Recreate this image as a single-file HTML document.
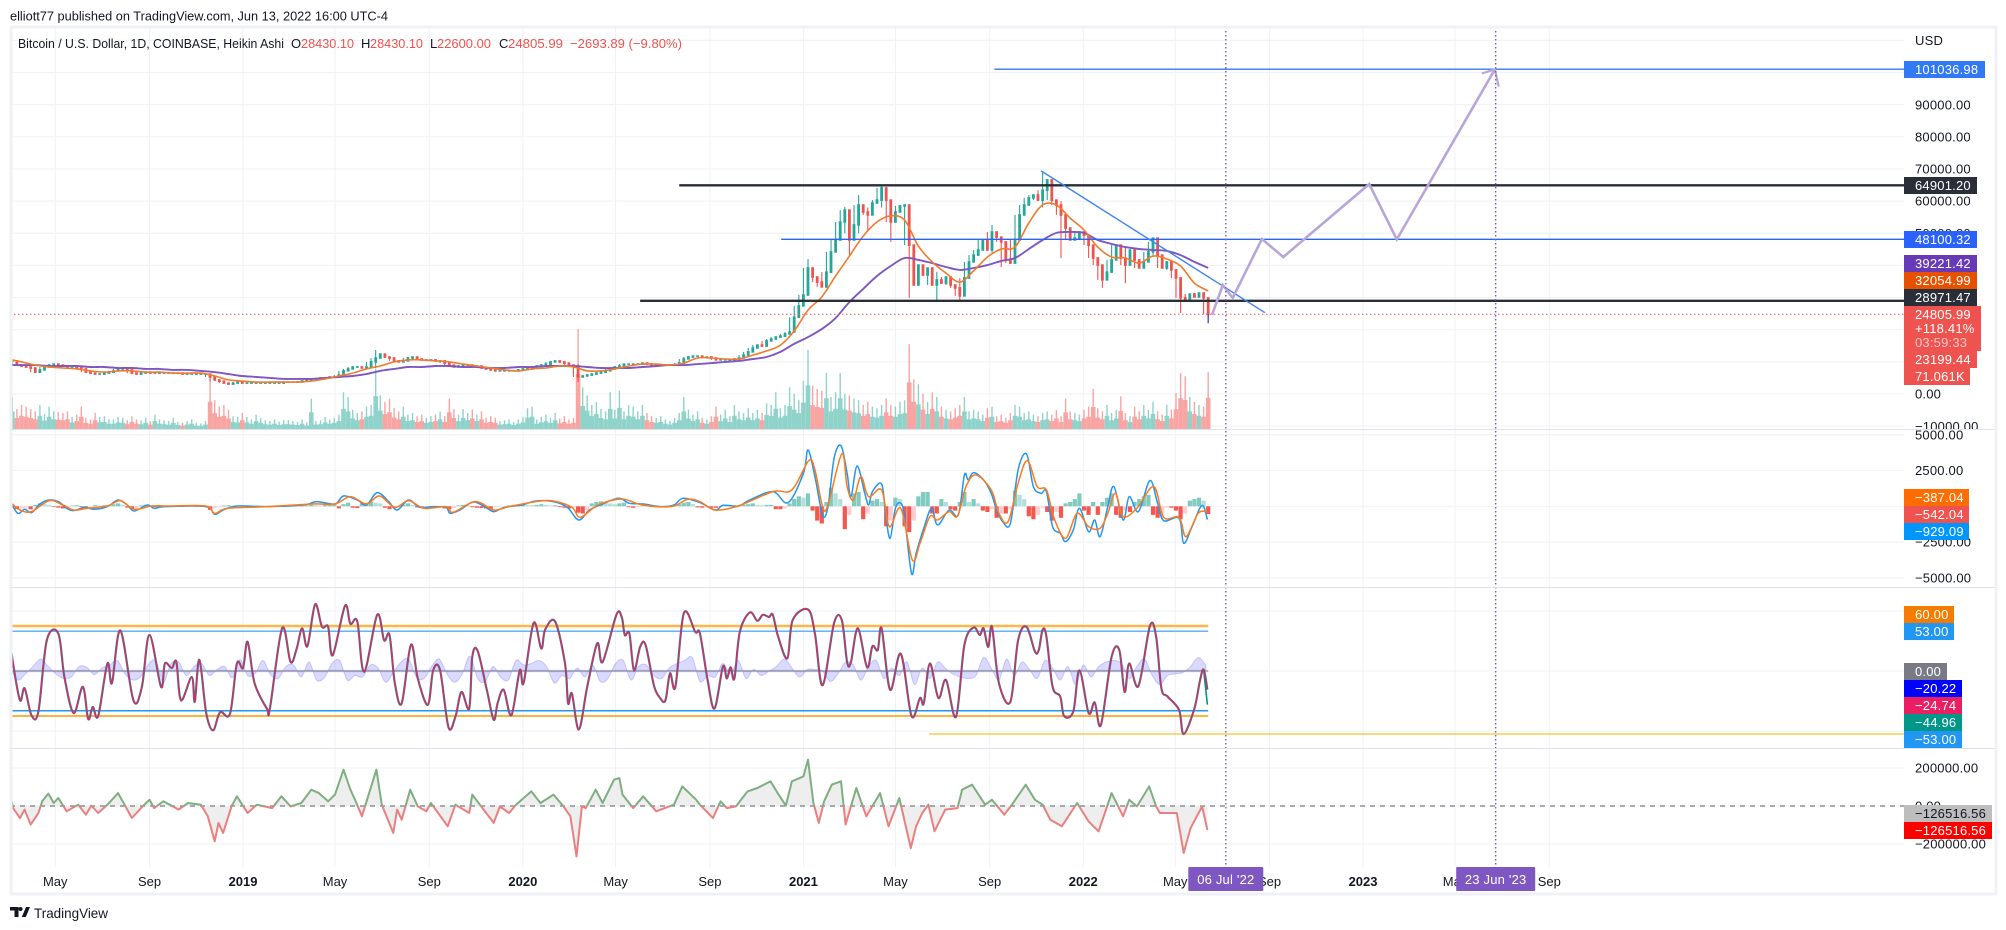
<!DOCTYPE html>
<html lang="en">
<head>
<meta charset="utf-8">
<title>Bitcoin / U.S. Dollar chart</title>
<style>
html,body{margin:0;padding:0;background:#fff;width:2006px;height:930px;overflow:hidden}
svg{display:block;font-family:"Liberation Sans",sans-serif}
text{font-size:13px;fill:#131722}
.ax{letter-spacing:.2px}
.tag{fill:#fff;letter-spacing:.2px}
</style>
</head>
<body>
<svg id="chart" xmlns="http://www.w3.org/2000/svg" width="2006" height="930" viewBox="0 0 2006 930">
  <defs>
    <clipPath id="clip-p1"><rect x="10" y="27" width="1894" height="402"/></clipPath>
    <clipPath id="clip-p2"><rect x="10" y="430" width="1894" height="157"/></clipPath>
    <clipPath id="clip-p3"><rect x="10" y="588" width="1894" height="160"/></clipPath>
    <clipPath id="clip-p4"><rect x="10" y="749" width="1894" height="118"/></clipPath>
    <clipPath id="clip-flow-up"><rect x="10" y="749" width="1894" height="57"/></clipPath>
    <clipPath id="clip-flow-down"><rect x="10" y="806" width="1894" height="61"/></clipPath>
    <clipPath id="clip-axis1"><rect x="1904" y="27" width="93" height="402"/></clipPath>
  </defs>

  <g id="grid"></g>
  <g id="volume" clip-path="url(#clip-p1)"></g>
  <g id="candles" clip-path="url(#clip-p1)"></g>
  <g id="mas" clip-path="url(#clip-p1)"></g>
  <g id="drawings"></g>
  <g id="macd" clip-path="url(#clip-p2)"></g>
  <g id="wave" clip-path="url(#clip-p3)"></g>
  <g id="flow" clip-path="url(#clip-p4)"></g>
  <g id="vlines"></g>

  <rect x="11" y="27" width="1985" height="867" fill="none" stroke="#f0f1f7" stroke-width="3"/>
  <line x1="10" x2="1995" y1="429.5" y2="429.5" stroke="#e0e3eb"/>
  <line x1="10" x2="1995" y1="587.5" y2="587.5" stroke="#e0e3eb"/>
  <line x1="10" x2="1995" y1="748.5" y2="748.5" stroke="#e0e3eb"/>

  <text x="10" y="20.5" textLength="378" lengthAdjust="spacingAndGlyphs">elliott77 published on TradingView.com, Jun 13, 2022 16:00 UTC-4</text>
  <g>
    <text x="18" y="48" textLength="266" lengthAdjust="spacingAndGlyphs">Bitcoin / U.S. Dollar, 1D, COINBASE, Heikin Ashi</text>
    <text x="291" y="48">O</text>
    <text x="301" y="48" style="fill:#ef5350" textLength="53" lengthAdjust="spacingAndGlyphs">28430.10</text>
    <text x="361" y="48">H</text>
    <text x="370" y="48" style="fill:#ef5350" textLength="53" lengthAdjust="spacingAndGlyphs">28430.10</text>
    <text x="430" y="48">L</text>
    <text x="437" y="48" style="fill:#ef5350" textLength="54" lengthAdjust="spacingAndGlyphs">22600.00</text>
    <text x="499" y="48">C</text>
    <text x="508" y="48" style="fill:#ef5350" textLength="55" lengthAdjust="spacingAndGlyphs">24805.99</text>
    <text x="570" y="48" style="fill:#ef5350" textLength="112" lengthAdjust="spacingAndGlyphs">−2693.89 (−9.80%)</text>
  </g>

  <text class="ax" x="1915" y="45">USD</text>
  <g id="axis1" clip-path="url(#clip-axis1)"></g>
  <g id="axis2"></g>
  <g id="axis4"></g>
  <g id="timeaxis"></g>
  <g id="badges"></g>

  <g>
    <path fill="#131722" d="M10 907h8.500v10h-4v-6.500h-4.500zM26 907h4l-4.200 10h-4z"/>
    <circle cx="20.500" cy="909" r="2" fill="#131722"/>
    <text x="34" y="918" style="font-size:14px" textLength="74" lengthAdjust="spacingAndGlyphs">TradingView</text>
  </g>
</svg>

<script>
/* ---------- time categories ---------- */
const tickDates = ['2018-05-01','2018-09-01','2019-01-01','2019-05-01','2019-09-01','2020-01-01','2020-05-01','2020-09-01','2021-01-01','2021-05-01','2021-09-01','2022-01-01','2022-05-01','2022-09-01','2023-01-01','2023-05-01','2023-09-01'];
const tickLabels = ['May','Sep','2019','May','Sep','2020','May','Sep','2021','May','Sep','2022','May','Sep','2023','May','Sep'];
const markerDates = ['2022-07-06','2023-06-23'];
const markerLabels = ["06 Jul '22","23 Jun '23"];

/* ---------- price pane ($ thousands), one candle every 6 days ---------- */
const closePrices = [
10.3,9.0,8.7,8.4,8.1,6.8,7.5,8.4,9.0,9.3,
9.0,8.7,8.4,8.4,8.1,7.8,6.8,6.5,6.2,6.2,
6.5,6.8,7.2,7.8,8.1,7.5,6.5,6.2,6.5,6.8,
6.5,6.5,6.5,6.5,6.5,6.5,6.5,6.2,6.2,6.2,
6.2,6.2,6.2,5.3,4.4,4.0,3.4,3.1,3.4,3.7,
3.4,3.4,3.4,3.4,3.4,3.4,3.4,3.4,3.4,3.7,
3.7,3.7,3.7,4.0,4.4,4.4,4.7,5.0,5.0,5.3,
5.3,5.9,7.2,7.8,8.4,8.4,8.1,8.4,10.0,11.2,
12.4,11.5,11.2,10.3,10.0,10.3,11.2,11.5,10.9,10.6,
10.6,10.6,10.3,10.3,9.6,9.0,8.4,8.7,9.0,9.0,
8.7,8.7,8.1,7.8,7.5,7.2,7.2,7.2,7.2,7.2,
7.5,7.8,7.8,8.4,8.7,9.0,9.3,10.0,10.3,10.0,
9.6,9.0,8.7,5.3,5.6,5.9,6.2,6.5,6.8,7.2,
7.8,8.4,8.7,9.3,9.3,9.3,9.3,9.6,9.3,9.0,
9.0,9.0,9.0,9.0,9.0,9.6,10.9,11.5,11.8,11.8,
11.5,11.5,11.2,10.6,10.6,10.6,10.6,10.9,11.2,12.1,
13.1,14.3,15.2,14.9,16.5,17.1,17.7,18.0,18.7,19.3,
23.9,27.4,30.8,39.2,36.4,34.8,33.3,37.9,44.2,47.9,
53.5,57.2,47.9,52.6,58.8,56.6,55.7,59.4,60.3,64.1,
60.3,53.5,56.6,58.5,58.8,46.3,33.9,40.1,37.0,39.2,
33.9,35.5,34.5,36.4,33.9,33.0,30.5,36.1,41.1,43.2,
44.8,47.9,44.8,50.4,48.8,47.3,41.7,40.7,47.9,55.7,
58.8,61.0,61.9,60.3,63.4,66.6,60.3,58.8,55.7,51.6,
47.9,48.5,50.4,49.4,46.3,42.3,40.1,35.5,37.9,41.7,
46.3,42.3,40.1,44.8,41.7,39.2,41.1,44.2,48.5,43.2,
39.2,41.1,38.6,36.1,29.9,29.2,31.1,30.2,31.4,29.9,
24.8];
const wickIndex = [43,79,123,173,181,182,184,186,189,191,195,201,206,213,215,224,228,237,242,247,254,260];
const wickHigh  = [6.2,13.7,9.3,42.0,58.2,57.0,61.9,58.0,64.7,60.0,58.8,38.0,36.0,52.6,48.0,69.0,60.0,38.0,46.0,47.3,36.0,28.4];
const wickLow   = [3.9,8.0,3.7,32.0,50.0,43.2,50.0,51.0,58.0,47.3,29.9,29.2,29.2,44.0,39.5,58.0,42.3,33.0,34.5,41.0,25.2,22.6];
const volumeK = [
40,25,30,28,25,22,30,19,28,22,
21,20,22,15,18,28,14,12,20,15,
16,12,12,15,14,11,16,12,11,14,
10,18,12,11,10,14,9,8,10,12,
8,7,10,62,36,28,30,24,16,15,
20,15,12,18,14,11,10,12,9,11,
11,10,9,12,8,38,10,11,15,12,
14,18,46,40,24,20,22,28,30,75,
42,34,38,26,22,28,18,20,16,18,
14,16,18,22,16,38,25,18,25,20,
24,18,22,14,16,14,10,11,12,9,
12,15,26,28,12,15,18,14,20,13,
16,12,14,125,52,42,30,34,25,22,
46,24,48,22,30,28,22,30,20,16,
14,16,12,10,14,20,40,24,18,22,
14,12,16,28,18,24,16,30,22,20,
26,20,24,20,32,30,46,26,30,52,
44,36,60,99,54,50,48,70,40,46,
70,44,42,38,36,30,34,28,26,30,
38,30,28,34,36,106,62,56,44,34,
46,40,28,24,22,26,30,40,22,24,
22,18,26,28,16,18,14,20,30,28,
20,22,18,16,20,22,18,24,16,38,
22,20,18,24,28,50,26,22,30,20,
24,41,20,16,28,22,30,24,34,22,
18,30,24,45,70,66,40,34,30,28,
71];
/* moving averages ($ thousands), one point every 18 days */
const maOrange = [
10.9,10.0,9.0,8.4,8.1,7.8,7.2,6.8,7.2,7.2,
6.8,6.8,6.5,6.5,6.5,5.6,4.4,4.0,3.7,3.7,
3.7,3.7,4.0,4.7,5.6,6.5,7.8,8.7,10.0,10.6,
10.6,10.3,10.0,9.3,8.7,8.1,7.5,7.2,7.8,8.1,
8.7,8.4,7.2,7.2,7.8,8.7,9.3,9.3,9.0,9.6,
11.2,11.2,10.9,10.9,12.1,13.4,15.2,19.6,26.1,30.2,
36.7,42.9,49.1,53.5,55.4,54.1,46.0,41.1,37.6,34.8,
38.3,42.6,45.1,45.7,53.2,58.8,58.8,54.7,51.0,45.7,
42.6,42.3,40.7,42.9,42.0,39.8,34.5,32.05];
const maPurple = [
9.0,9.0,9.0,8.7,8.7,8.7,8.4,8.4,8.1,8.1,
7.8,7.8,7.5,7.5,7.2,6.8,6.2,5.6,5.3,5.0,
4.7,4.7,4.7,5.0,5.3,5.6,6.2,7.2,7.8,8.4,
8.4,8.7,8.7,8.4,8.4,8.1,8.1,8.4,8.4,8.7,
8.7,8.7,8.4,8.1,8.1,8.1,8.4,8.7,9.0,9.0,
9.3,9.6,10.0,10.3,10.9,11.5,13.1,15.6,17.7,20.2,
23.6,28.6,32.7,36.7,39.8,42.3,41.7,40.7,39.5,38.6,
39.2,40.1,41.4,42.3,45.1,47.9,50.1,50.4,50.1,47.9,
46.7,45.7,45.1,44.8,44.5,43.2,41.1,39.22];
const priceTicks = [110,100,90,80,70,60,50,40,30,20,10,0,-10];
const priceTickLabels = ['','100000.00','90000.00','80000.00','70000.00','60000.00','50000.00','40000.00','30000.00','20000.00','10000.00','0.00','−10000.00'];

/* drawings: levels, trend line and projected path */
const levelPrices = [101.03698,64.9012,48.10032,28.97147];
const levelStartDays = [1284,873,1006,822];
const levelColors = ['#3b78e7','#2a2e39','#2962ff','#2a2e39'];
const levelWidths = [1.4,2.4,1.4,2.4];
const levelNames = ['level-101036','level-64901','level-48100','level-28971'];
const lastPrice = 24.80599;
const trendDays = [1345,1637];
const trendPrices = [69.4,25.3];
const pathDays = [1568,1582,1595,1633,1661,1773,1809,1937];
const pathPrices = [24.6,33.9,29.9,48.2,42.6,65.3,48.1,101.0];
const arrowDays = [1920,1937,1942];
const arrowPrices = [99.7,101.0,95.6];

/* ---------- MACD pane ---------- */
const macdDays = [0,10,19,28,39,51,63,74,83,98,109,127,141,153,162,179,188,202,255,267,278,296,336,383,400,424,435,453,465,479,494,505,520,534,552,569,574,587,604,619,631,645,668,686,709,727,742,756,773,794,808,826,849,866,878,900,920,930,950,965,995,1015,1035,1041,1050,1060,1067,1075,1084,1092,1097,1105,1115,1120,1125,1137,1142,1148,1155,1162,1167,1176,1182,1192,1202,1210,1225,1237,1245,1250,1257,1270,1280,1287,1295,1305,1315,1326,1335,1345,1352,1360,1370,1377,1387,1395,1407,1415,1422,1432,1440,1452,1460,1472,1487,1497,1505,1525,1531,1542,1552,1557,1562];
const macdValues = [396,-489,-210,-443,163,443,326,-140,-303,-70,-210,-23,443,93,-326,93,-140,-23,-23,-559,-256,23,-23,93,326,163,722,443,93,955,326,-256,443,-70,-23,-93,-489,-256,303,-23,-373,-70,93,373,326,-70,-955,-256,163,559,210,163,-23,93,559,256,-256,70,23,443,1025,256,2306,3938,2074,-606,-23,3355,4241,2306,676,2819,909,93,1025,1561,-489,-2237,-140,210,-722,-4683,-3285,-1538,-140,-1305,-256,-606,2190,1841,2353,1841,909,-256,-1072,-1188,2540,3658,1375,909,1025,-1421,-1887,-2470,-1654,-140,-1771,-955,-2120,-23,1375,-955,676,-373,1794,210,-1002,-839,-2586,-1421,-140,-23,-929];
const signalDays = [2,13,28,51,69,83,101,127,144,162,185,208,255,267,284,336,395,424,444,465,482,502,520,540,569,578,607,631,651,686,709,733,744,767,797,820,843,866,884,900,920,950,995,1020,1042,1050,1060,1067,1085,1092,1100,1110,1120,1137,1147,1162,1177,1187,1200,1210,1225,1236,1247,1260,1280,1290,1302,1315,1327,1340,1352,1362,1377,1392,1407,1422,1432,1442,1452,1470,1492,1505,1525,1534,1550,1562];
const signalValues = [210,-256,-373,396,93,-256,-140,23,396,-210,23,23,23,-489,-140,-23,163,163,676,163,722,-70,396,-140,-23,-419,326,-256,-23,326,373,-70,-769,93,513,163,-23,23,489,326,-256,23,1025,1142,3192,2540,-23,93,3658,1375,443,2074,676,1142,-1421,-140,-3751,-2586,-722,-955,-373,-676,1375,2190,1142,-489,-1072,1608,3192,1375,1142,-839,-2237,-489,-1421,-1538,-489,909,-722,-140,1375,-769,-769,-2120,-489,-387];
const histValues = [
150,-200,-150,-100,-200,100,200,150,100,-50,
-100,-150,-100,50,80,-60,-100,-50,80,50,
80,60,150,200,120,-100,-180,-120,60,100,
60,-50,-80,40,30,20,-20,-30,20,10,
10,-10,-20,-250,-150,-60,60,80,40,30,
20,10,-10,10,-10,10,20,10,10,20,
30,40,20,-20,60,100,80,60,100,120,
200,-150,150,250,-100,-120,200,250,300,250,
200,-100,-200,-150,-50,100,200,100,-80,-100,
-60,-40,-60,-80,-150,-200,-120,60,100,80,
-60,-100,-120,-150,-180,-80,-40,-20,60,80,
120,150,100,80,100,150,100,60,80,-60,
-100,-150,-100,-450,-500,-300,200,300,350,300,
200,150,200,250,-60,-100,-60,60,80,-50,
-60,-30,20,30,50,150,250,300,150,-80,
-100,-60,-100,-100,-40,30,50,30,60,120,
150,200,100,80,90,100,-200,-200,-150,200,
500,700,600,900,-300,-1000,-1200,300,1300,900,
500,-1600,-600,900,1000,-900,-500,400,500,300,
-1400,-1000,600,500,-1400,-1800,-1000,700,1000,1000,
-500,-500,500,300,-200,-300,300,1000,300,500,
200,-300,-400,-200,-800,-500,-500,-200,1100,800,
500,-700,-900,-600,-100,-400,-1000,-400,-800,200,
300,500,900,-300,-600,300,-600,300,600,900,
-600,-800,-300,-400,300,500,700,800,-600,-800,
-500,-100,-100,-300,-900,-500,400,500,600,400,
-542];
const macdTicks = [5000,2500,0,-2500,-5000];
const macdTickLabels = ['5000.00','2500.00','','−2500.00','−5000.00'];

/* ---------- wave-trend pane ---------- */
const waveDays = [0,4,13,19,28,37,48,63,71,83,95,102,108,115,127,133,144,161,172,182,197,202,211,217,223,237,241,247,256,265,274,287,296,304,310,319,335,339,355,366,374,381,388,398,407,415,421,437,444,453,462,479,488,495,502,511,523,532,545,552,561,572,581,589,599,603,610,622,631,636,644,654,665,670,683,693,698,711,724,728,733,742,753,766,773,791,798,802,808,814,822,829,840,848,855,861,868,879,894,900,910,919,930,935,940,945,952,965,975,982,990,995,1002,1014,1021,1041,1050,1060,1075,1085,1092,1097,1106,1118,1125,1132,1137,1148,1162,1176,1187,1192,1200,1211,1221,1234,1245,1257,1265,1270,1276,1281,1290,1305,1315,1326,1337,1342,1347,1352,1360,1370,1375,1387,1395,1407,1415,1423,1437,1447,1454,1460,1472,1487,1495,1502,1510,1525,1531,1545,1552,1557,1562];
const waveValues = [41,10,-39,-23,-59,-54,41,50,-8,-56,-21,-64,-48,-60,10,-16,54,-39,-21,48,-21,10,4,12,-39,-8,-41,15,-56,-79,-55,-57,10,4,39,-16,-50,-50,57,12,30,57,33,89,59,59,21,87,63,66,-1,75,41,48,-16,-43,35,-10,-45,1,1,-75,-61,-28,-50,19,27,-25,-65,-43,-25,-59,1,-16,64,30,55,66,10,-43,-30,-78,-21,37,12,75,72,48,50,1,32,35,-19,-36,-39,-3,-21,77,52,50,-12,-50,6,-10,5,-10,52,78,67,75,72,75,46,17,68,82,50,-19,64,68,12,12,57,5,33,28,57,-25,23,-60,-36,-43,10,-36,-12,-61,35,58,48,57,32,59,-16,-41,41,59,26,28,55,46,-21,-34,-60,-54,1,-56,-42,-72,19,28,-28,10,-20,60,46,-23,-34,-52,-84,-50,-14,2,-24.74];
const waveTailDays = [1557,1562];
const waveTailValues = [2,-44.96];
/* oscillator sampled every 10 days */
const oscValues = [
5,-12,-4,6,16,6,-4,-10,-8,6,
5,-5,4,8,14,-4,-12,-8,8,14,
-15,10,12,-6,6,10,-6,2,6,-9,
15,-6,-3,14,-5,-10,6,8,-8,12,
-12,-9,10,14,-12,-6,-8,8,4,-15,
-2,12,16,-8,-10,6,16,-4,-15,-4,
20,-10,-14,6,-8,-12,14,8,10,14,
6,-16,-6,-10,4,-8,8,-14,-10,10,
14,-12,6,8,-6,-10,4,10,14,18,
-14,-6,-8,10,-4,14,-10,2,-6,0,
6,16,4,-8,2,2,0,-14,-4,12,
8,-12,6,14,-10,4,-6,12,-18,4,
-10,12,4,-4,-8,-10,-6,18,4,-12,
16,-6,12,2,-10,14,4,-12,6,-18,
8,-8,6,12,14,10,-10,6,16,-6,
-18,-6,-4,-2,6,18,8];
const waveLevelValues = [60,53,-53,-60];
const waveLevelColors = ['#ffb74d','#64b5f6','#2196f3','#ff9800'];
const waveLevelWidths = [2.5,1.4,1.4,1.4];
const waveGridTicks = [80,0,-80];
const floorLevel = -84;
const floorStartDay = 1199;

/* ---------- money-flow pane ($ thousands) ---------- */
const flowDays = [0,4,13,19,27,37,42,50,57,63,74,89,99,106,115,127,141,159,173,182,188,200,220,232,249,258,267,272,278,289,296,310,322,342,354,366,380,393,403,415,424,435,444,450,459,478,485,500,505,511,522,532,543,549,571,581,599,603,613,631,639,651,660,680,692,709,722,731,739,746,751,764,773,788,795,799,813,826,843,866,877,895,900,917,927,935,947,962,975,992,1000,1012,1020,1035,1041,1048,1055,1062,1072,1084,1090,1104,1117,1135,1146,1160,1175,1182,1190,1198,1206,1220,1236,1242,1255,1272,1281,1297,1307,1325,1337,1347,1357,1372,1392,1407,1420,1437,1452,1460,1470,1486,1495,1500,1522,1531,1540,1555,1562];
const flowValues = [68,-11,-63,-19,-98,-37,25,65,16,42,-28,7,-46,2,-37,7,68,-63,-2,33,-11,25,-19,16,7,-54,-186,-89,-142,-2,51,-37,7,-11,51,-2,16,86,68,25,60,191,86,33,-54,191,7,-142,-19,-72,86,-2,-28,16,-107,7,-37,60,7,-89,-2,-37,7,77,16,60,-2,-54,-265,-2,-11,86,16,139,147,60,-11,51,-28,7,103,33,7,-63,25,-11,-2,77,95,130,77,2,130,156,244,16,-89,25,112,130,-98,95,-54,68,-107,42,-221,-107,-37,7,-133,-19,-11,86,112,7,33,-46,7,112,33,7,-72,-107,16,-81,-133,68,-54,33,-2,103,-2,-37,-37,-247,-116,-2,-126.5];
const flowTicks = [200,0,-200];
const flowTickLabels = ['200000.00','0.00','−200000.00'];

/* ---------- axis functions ---------- */
const DAY0 = Date.UTC(2018,2,3);
const dayOf = s => { const p = s.split('-'); return (Date.UTC(+p[0],+p[1]-1,+p[2]) - DAY0) / 86400000; };
const xDay = d => 10 + 0.7666 * d;
const yPrice = k => 394 - 3.215 * k;
const yVolume = v => 429 - 0.8 * v;
const yMacd = v => 506.3 - 0.01432 * v;
const yWave = v => 671 - 0.75 * v;
const yFlow = k => 806 - 0.19 * k;
const candleDay = i => 3 + 6 * i;
const maDay = j => -3 + 18 * j;
const oscDay = j => 10 * j;
const histDay = i => 3 + 6 * i;
const AXIS_X = 1904, LAST_DAY = 1563;

const NS = 'http://www.w3.org/2000/svg';
function mk(tag, attrs, parent){
  const e = document.createElementNS(NS, tag);
  for (const k in attrs) e.setAttribute(k, attrs[k]);
  parent.appendChild(e);
  return e;
}
const $ = id => document.getElementById(id);
const pts = (days, vals, fx, fy) => days.map((d,i) => fx(d).toFixed(1) + ',' + fy(vals[i]).toFixed(1)).join(' ');
/* rounded curve through the data points (the reference lines have no hard corners) */
function curve(days, vals, fx, fy){
  const P = days.map((d,i) => [fx(d), fy(vals[i])]);
  let s = 'M' + P[0][0].toFixed(1) + ' ' + P[0][1].toFixed(1);
  for (let i = 0; i < P.length - 1; i++){
    const p0 = P[Math.max(i-1,0)], p1 = P[i], p2 = P[i+1], p3 = P[Math.min(i+2,P.length-1)];
    const c1x = p1[0] + (p2[0]-p0[0])/6, c1y = p1[1] + (p2[1]-p0[1])/6;
    const c2x = p2[0] - (p3[0]-p1[0])/6, c2y = p2[1] - (p3[1]-p1[1])/6;
    s += 'C' + c1x.toFixed(1) + ' ' + c1y.toFixed(1) + ' ' + c2x.toFixed(1) + ' ' + c2y.toFixed(1) + ' ' + p2[0].toFixed(1) + ' ' + p2[1].toFixed(1);
  }
  return s;
}

/* grid */
const gridG = $('grid');
tickDates.forEach(function(t){
  const x = xDay(dayOf(t));
  const l = mk('line',{x1:x,x2:x,y1:27,y2:867,stroke:'#f0f1f5','stroke-width':1},gridG);
  
  
});
function hGrid(y){
  const l = mk('line',{x1:10,x2:AXIS_X,y1:y,y2:y,stroke:'#f2f3f6','stroke-width':1.2},gridG);
  
  
}
priceTicks.forEach(v => hGrid(yPrice(v)));
macdTicks.forEach(v => hGrid(yMacd(v)));
waveGridTicks.forEach(v => hGrid(yWave(v)));
flowTicks.forEach(v => hGrid(yFlow(v)));

/* volume: dense lower block plus a thin spike, both from the same value */
volumeK.forEach(function(v,i){
  const up = closePrices[i] >= (i ? closePrices[i-1] : closePrices[0]);
  const fill = up ? '#8fd3ca' : '#f8a5a3';
  const x = xDay(candleDay(i));
  const hBlock = 429 - yVolume(v * 0.55);
  const block = mk('rect',{x:(x-2.3).toFixed(1),y:(429-hBlock).toFixed(1),width:4.6,height:hBlock.toFixed(1),fill:fill},$('volume'));
  
  
  const spike = mk('rect',{x:(x-0.7).toFixed(1),y:yVolume(v).toFixed(1),width:1.4,height:(429-yVolume(v)).toFixed(1),fill:fill},$('volume'));
  
  
});

/* candles */
closePrices.forEach(function(c,i){
  const o = i ? closePrices[i-1] : c;
  const n = i < closePrices.length - 1 ? closePrices[i+1] : c;
  const x = xDay(candleDay(i));
  const k = wickIndex.indexOf(i);
  const hi = k >= 0 ? wickHigh[k] : Math.max(o,c,n);
  const lo = k >= 0 ? wickLow[k] : Math.min(o,c,n);
  const w = mk('line',{x1:x,x2:x,y1:yPrice(hi).toFixed(1),y2:yPrice(lo).toFixed(1),stroke:c>=o?'#26a69a':'#ef5350','stroke-width':1.1},$('candles'));
  
  
});
closePrices.forEach(function(c,i){
  const o = i ? closePrices[i-1] : c;
  const x = xDay(candleDay(i));
  const top = yPrice(Math.max(o,c)), bot = yPrice(Math.min(o,c));
  const b = mk('rect',{x:(x-1.4).toFixed(1),y:(top-0.8).toFixed(1),width:2.8,height:(bot-top+1.6).toFixed(1),fill:c>=o?'#26a69a':'#ef5350'},$('candles'));
  
  
});

/* moving averages */
const maDaysOrange = maOrange.map((_,j) => maDay(j));
const maDaysPurple = maPurple.map((_,j) => maDay(j));
const purpleLine = mk('path',{d:curve(maDaysPurple,maPurple,xDay,yPrice),fill:'none',stroke:'#7e57c2','stroke-width':1.9},$('mas'));


const orangeLine = mk('path',{d:curve(maDaysOrange,maOrange,xDay,yPrice),fill:'none',stroke:'#f27a2b','stroke-width':1.6},$('mas'));



/* drawings */
const drawG = $('drawings');
const lastLine = mk('line',{x1:10,x2:AXIS_X,y1:yPrice(lastPrice),y2:yPrice(lastPrice),stroke:'#ef5350','stroke-width':1,'stroke-dasharray':'1.5 2.5'},drawG);


levelPrices.forEach(function(p,i){
  const l = mk('line',{x1:xDay(levelStartDays[i]),x2:AXIS_X,y1:yPrice(p),y2:yPrice(p),stroke:levelColors[i],'stroke-width':levelWidths[i]},drawG);
  
  
});
const trend = mk('polyline',{points:pts(trendDays,trendPrices,xDay,yPrice),fill:'none',stroke:'#3d84f5','stroke-width':1.4},drawG);


const path = mk('polyline',{points:pts(pathDays,pathPrices,xDay,yPrice),fill:'none',stroke:'#b7a6d9','stroke-width':2.6},drawG);


const head = mk('polyline',{points:pts(arrowDays,arrowPrices,xDay,yPrice),fill:'none',stroke:'#b7a6d9','stroke-width':2.2},drawG);


const lastWick = mk('line',{x1:xDay(LAST_DAY),x2:xDay(LAST_DAY),y1:yPrice(lastPrice),y2:yPrice(22.0),stroke:'#673ab7','stroke-width':1.3},drawG);



/* MACD */
histValues.forEach(function(v,i){
  const prev = i ? histValues[i-1] : 0;
  const fill = v >= 0 ? (v >= prev ? '#7fcbbf' : '#b2dfdb') : (v <= prev ? '#f4574f' : '#ffcdd2');
  const x = xDay(histDay(i));
  const y0 = yMacd(0), y1 = yMacd(v);
  const r = mk('rect',{x:(x-2.1).toFixed(1),y:Math.min(y0,y1).toFixed(1),width:4.2,height:Math.abs(y1-y0).toFixed(1),fill:fill},$('macd'));
  
  
});
const macdLine = mk('path',{d:curve(macdDays,macdValues,xDay,yMacd),fill:'none',stroke:'#2196f3','stroke-width':1.5},$('macd'));


const signalLine = mk('path',{d:curve(signalDays,signalValues,xDay,yMacd),fill:'none',stroke:'#ff7a1a','stroke-width':1.5},$('macd'));



/* wave-trend */
const waveG = $('wave');
const oscDays = oscValues.map((_,j) => oscDay(j));
const oscD = curve(oscDays,oscValues,xDay,yWave);
const osc = mk('path',{d:oscD + 'L' + xDay(oscDays[oscDays.length-1]) + ' ' + yWave(0) + 'L' + xDay(0) + ' ' + yWave(0) + 'Z',fill:'rgba(123,120,255,.28)',stroke:'rgba(123,120,255,.35)','stroke-width':1},waveG);


const zeroLine = mk('line',{x1:10,x2:xDay(LAST_DAY),y1:yWave(0),y2:yWave(0),stroke:'rgba(120,123,134,.5)','stroke-width':2.2},waveG);


waveLevelValues.forEach(function(v,i){
  const l = mk('line',{x1:10,x2:xDay(LAST_DAY),y1:yWave(v),y2:yWave(v),stroke:waveLevelColors[i],'stroke-width':waveLevelWidths[i]},waveG);
  
  
});
const floor = mk('line',{x1:xDay(floorStartDay),x2:AXIS_X,y1:yWave(floorLevel),y2:yWave(floorLevel),stroke:'#fbc02d','stroke-width':1.3},waveG);


const waveD = curve(waveDays,waveValues,xDay,yWave);
const waveTeal = mk('path',{d:waveD,fill:'none',stroke:'#0f9d8c','stroke-width':2.2},waveG);


const waveTail = mk('polyline',{points:pts(waveTailDays,waveTailValues,xDay,yWave),fill:'none',stroke:'#009688','stroke-width':1.6},waveG);


const wavePink = mk('path',{d:waveD,fill:'none',stroke:'#e2246a','stroke-width':1.4},waveG);



/* money flow */
const flowG = $('flow');
const flowPts = pts(flowDays,flowValues,xDay,yFlow);
const flowFill = mk('polygon',{points:xDay(flowDays[0])+','+yFlow(0)+' '+flowPts+' '+xDay(flowDays[flowDays.length-1])+','+yFlow(0),fill:'#eeeeee'},flowG);


const flowZero = mk('line',{x1:10,x2:AXIS_X,y1:yFlow(0),y2:yFlow(0),stroke:'#787b86','stroke-width':1.2,'stroke-dasharray':'5 5'},flowG);


const flowUp = mk('polyline',{points:flowPts,fill:'none',stroke:'#7fae80','stroke-width':2,'stroke-linejoin':'round','clip-path':'url(#clip-flow-up)'},flowG);


const flowDown = mk('polyline',{points:flowPts,fill:'none',stroke:'#e98080','stroke-width':2,'stroke-linejoin':'round','clip-path':'url(#clip-flow-down)'},flowG);



/* vertical date markers */
markerDates.forEach(function(d){
  const x = xDay(dayOf(d));
  const l = mk('line',{x1:x,x2:x,y1:27,y2:867,stroke:'#7e57c2','stroke-width':1.4,'stroke-dasharray':'1.5 2.5'},$('vlines'));
  
  
});

/* axis tick labels */
function tickLabel(group, y, label){
  if (!label) return;
  const t = mk('text',{x:1915,y:(y+4.6).toFixed(1),'class':'ax'},group);
  t.textContent = label;
  
  
}
priceTicks.forEach((v,i) => tickLabel($('axis1'), yPrice(v), priceTickLabels[i]));
macdTicks.forEach((v,i) => tickLabel($('axis2'), yMacd(v), macdTickLabels[i]));
flowTicks.forEach((v,i) => tickLabel($('axis4'), yFlow(v), flowTickLabels[i]));

/* time axis */
tickDates.forEach(function(d,i){
  const t = mk('text',{x:xDay(dayOf(d)),y:886,'text-anchor':'middle'},$('timeaxis'));
  t.textContent = tickLabels[i];
  if (/^\d/.test(tickLabels[i])) t.setAttribute('font-weight','700');
  
  
});
markerDates.forEach(function(d,i){
  const cx = xDay(dayOf(d));
  const w = i === 0 ? 75 : 79;
  const r = mk('rect',{x:(cx-w/2).toFixed(1),y:867,width:w,height:24,rx:1,fill:'#7e57c2'},$('timeaxis'));
  
  
  const t = mk('text',{x:cx,y:884,'text-anchor':'middle','class':'tag'},$('timeaxis'));
  t.textContent = markerLabels[i];
  
  
});

/* value badges */
const badgeLabels = ['101036.98','64901.20','48100.32','39221.42','32054.99','28971.47','23199.44','71.061K','−387.04','−542.04','−929.09','60.00','53.00','0.00','−20.22','−24.74','−44.96','−53.00','−126516.56','−126516.56'];
const badgeTops = [61,177,231,255,272,289,351,368,489,506,523,606,623,663,680,697,714,731,805,822];
const badgeRights = [1985,1977,1977,1977,1977,1977,1977,1970,1969,1969,1969,1954,1954,1947,1962,1962,1962,1962,1992,1992];
const badgeFills = ['#3179f5','#2a2e39','#2962ff','#673ab7','#e65100','#2a2e39','#ef5350','#ef5350','#ff6d00','#ef5350','#0096ff','#f57c00','#2196f3','#787b86','#0000ff','#e91e63','#009688','#2196f3','#bdbdbd','#ff0000'];
badgeLabels.forEach(function(label,i){
  const r = mk('rect',{x:1904,y:badgeTops[i],width:badgeRights[i]-1904,height:17,fill:badgeFills[i]},$('badges'));
  
  
  const t = mk('text',{x:1915,y:badgeTops[i]+13,'class':'tag'},$('badges'));
  t.textContent = label;
  if (badgeFills[i] === '#bdbdbd') t.setAttribute('style','fill:#131722');
  
  
});
const lastBox = mk('rect',{x:1904,y:306,width:77,height:45,fill:'#ef5350'},$('badges'));


const lastLabels = ['24805.99','+118.41%','03:59:33'];
const lastBaselines = [319,333,347];
const lastColors = ['#fff','#fff','#f9c6c5'];
lastLabels.forEach(function(label,i){
  const t = mk('text',{x:1915,y:lastBaselines[i],'class':'tag',style:'fill:'+lastColors[i]},$('badges'));
  t.textContent = label;
  
  
});
</script>
</body>
</html>
